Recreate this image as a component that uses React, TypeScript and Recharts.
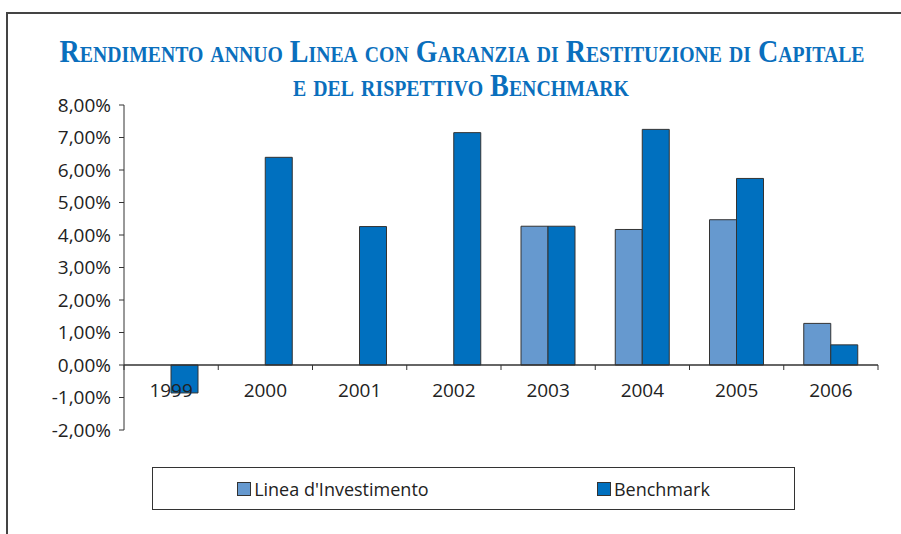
import { BarChart, Bar, XAxis, YAxis, Legend, ReferenceLine } from "recharts";

const years = ["1999", "2000", "2001", "2002", "2003", "2004", "2005", "2006"];
const lineaValues = [null, null, null, null, 4.27, 4.17, 4.47, 1.28];
const benchmarkValues = [-0.86, 6.39, 4.26, 7.15, 4.27, 7.25, 5.74, 0.62];
const seriesNames = ["Linea d'Investimento", "Benchmark"];
const yTicks = [-2, -1, 0, 1, 2, 3, 4, 5, 6, 7, 8];

const data = years.map((year, i) => ({
  year,
  linea: lineaValues[i],
  benchmark: benchmarkValues[i],
}));

const W = 901;
const H = 534;
const MARGIN = { top: 105, right: 23, bottom: 74, left: 0 };
const Y_AXIS_W = 124;
const X_AXIS_H = 30;
const PLOT_W = W - MARGIN.left - MARGIN.right - Y_AXIS_W;
const PLOT_H = H - MARGIN.top - MARGIN.bottom - X_AXIS_H;
const Y_MIN = -2;
const Y_MAX = 8;
const ZERO_SHIFT = (PLOT_H * (0 - Y_MIN)) / (Y_MAX - Y_MIN);
const BAND = PLOT_W / years.length;

const LIGHT = "#6699cf";
const DARK = "#0070bf";
const INK = "#333333";
const FONT = "'Open Sans', 'Noto Sans', sans-serif";
const TITLE_SQUEEZE = 0.86;

const fmtPct = (v: number) => `${v.toFixed(2).replace(".", ",")}%`;

const YearTick = (props: any) => {
  const { x, y, payload, index } = props;
  const zeroY = y - ZERO_SHIFT;
  return (
    <g>
      <line x1={x - BAND / 2} x2={x - BAND / 2} y1={zeroY} y2={zeroY + 5} stroke={INK} />
      {index === years.length - 1 && (
        <line x1={x + BAND / 2} x2={x + BAND / 2} y1={zeroY} y2={zeroY + 5} stroke={INK} />
      )}
      <text x={x} y={zeroY + 32} textAnchor="middle" fill="#222" fontSize={19} fontFamily={FONT}>
        {payload.value}
      </text>
    </g>
  );
};

const LegendBox = (props: any) => {
  // keep the series order of the original legend
  const items = [...(props.payload || [])].sort(
    (a: any, b: any) => seriesNames.indexOf(a.value) - seriesNames.indexOf(b.value)
  );
  return (
    <div
      style={{
        boxSizing: "border-box",
        width: "100%",
        height: "100%",
        border: `1.5px solid ${INK}`,
        background: "#fff",
        display: "flex",
        justifyContent: "space-around",
        alignItems: "center",
        fontFamily: FONT,
        fontSize: 18,
        color: "#222",
      }}
    >
      {items.map((entry: any) => (
        <div key={entry.value} style={{ display: "flex", alignItems: "center" }}>
          <span
            style={{
              display: "inline-block",
              width: 12,
              height: 12,
              background: entry.color,
              border: `1px solid ${INK}`,
              marginRight: 3,
            }}
          />
          <span>{entry.value}</span>
        </div>
      ))}
    </div>
  );
};

const TitleLine = ({ cx, y, width, children }: any) => (
  <g transform={`translate(${cx},${y}) scale(${TITLE_SQUEEZE},1)`}>
    <text
      x={0}
      y={0}
      textAnchor="middle"
      fill="#0a6fbd"
      fontFamily="'Liberation Serif', serif"
      fontWeight="bold"
      fontSize={32}
      style={{ fontVariant: "small-caps" }}
      textLength={width / TITLE_SQUEEZE}
      lengthAdjust="spacingAndGlyphs"
    >
      {children}
    </text>
  </g>
);

const App = () => {
  return (
    <div style={{ position: "absolute", left: 0, top: 0, width: W, height: H, background: "#fff" }}>
      <svg width={W} height={H} style={{ position: "absolute", left: 0, top: 0 }}>
        <line x1={7} y1={13} x2={7} y2={H} stroke="#444" strokeWidth={2} />
        <line x1={6} y1={13} x2={W} y2={13} stroke="#444" strokeWidth={2} />
        <TitleLine cx={462} y={62} width={805}>
          Rendimento annuo Linea con Garanzia di Restituzione di Capitale
        </TitleLine>
        <TitleLine cx={461} y={96} width={336}>
          e del rispettivo Benchmark
        </TitleLine>
      </svg>
      <div style={{ position: "absolute", left: 0, top: 0 }}>
        <BarChart
          width={W}
          height={H}
          data={data}
          margin={MARGIN}
          barCategoryGap={20}
          barGap={0}
        >
          <YAxis
            width={Y_AXIS_W}
            domain={[Y_MIN, Y_MAX]}
            ticks={yTicks}
            interval={0}
            tickFormatter={fmtPct}
            axisLine={{ stroke: INK }}
            tickLine={{ stroke: INK }}
            tickSize={5}
            tickMargin={8}
            tick={{ fill: "#222", fontSize: 19, fontFamily: FONT }}
          />
          <Bar dataKey="linea" name={seriesNames[0]} fill={LIGHT} stroke={INK} strokeWidth={1} isAnimationActive={false} />
          <Bar dataKey="benchmark" name={seriesNames[1]} fill={DARK} stroke={INK} strokeWidth={1} isAnimationActive={false} />
          <ReferenceLine y={0} stroke={INK} strokeWidth={1.5} />
          <XAxis
            dataKey="year"
            height={X_AXIS_H}
            axisLine={false}
            tickLine={false}
            tickSize={0}
            tickMargin={0}
            interval={0}
            tick={<YearTick />}
          />
          <Legend
            layout="horizontal"
            verticalAlign="middle"
            align="center"
            content={<LegendBox />}
            wrapperStyle={{ left: 152, top: 467, width: 643, height: 43 }}
          />
        </BarChart>
      </div>
    </div>
  );
};

export default App;
